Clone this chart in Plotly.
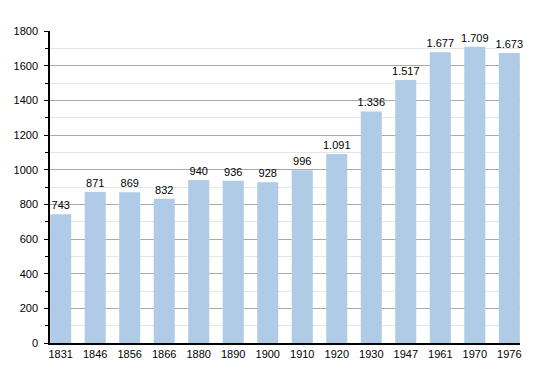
import plotly.graph_objects as go

years = ["1831", "1846", "1856", "1866", "1880", "1890", "1900", "1910", "1920", "1930", "1947", "1961", "1970", "1976"]
population = [743, 871, 869, 832, 940, 936, 928, 996, 1091, 1336, 1517, 1677, 1709, 1673]
labels = ["743", "871", "869", "832", "940", "936", "928", "996", "1.091", "1.336", "1.517", "1.677", "1.709", "1.673"]
y_ticks = [0, 200, 400, 600, 800, 1000, 1200, 1400, 1600, 1800]

fig = go.Figure(go.Bar(
    x=years, y=population, text=labels, textposition="outside",
    constraintext="none",
    textfont=dict(family="Liberation Sans, Arial", size=11, color="black"),
    marker=dict(color="#b0cbe5", line=dict(width=0)),
    cliponaxis=False, width=0.61,
))

fig.update_layout(
    width=550, height=373,
    margin=dict(l=42, r=38, t=23, b=38),
    plot_bgcolor="white", paper_bgcolor="white",
    showlegend=False,
    font=dict(family="Liberation Sans, Arial", size=11, color="black"),
)
fig.update_xaxes(
    type="category", range=[-0.31, 13.31], showline=True, linecolor="black", linewidth=1.5,
    ticks="", tickfont=dict(size=11), showgrid=False, automargin=False,
)
fig.update_yaxes(
    range=[0, 1800], tickvals=y_ticks, showline=True, linecolor="black", linewidth=1.5,
    ticks="outside", ticklen=4, tickcolor="black", ticklabelstandoff=4, automargin=False,
    showgrid=True, gridcolor="#aaaaaa", gridwidth=1, zeroline=False,
    minor=dict(dtick=100, ticks="outside", ticklen=3, tickcolor="black", showgrid=True, gridcolor="#e6e6e6", gridwidth=1),
    tickfont=dict(size=11),
)
fig.write_html("out.html")
